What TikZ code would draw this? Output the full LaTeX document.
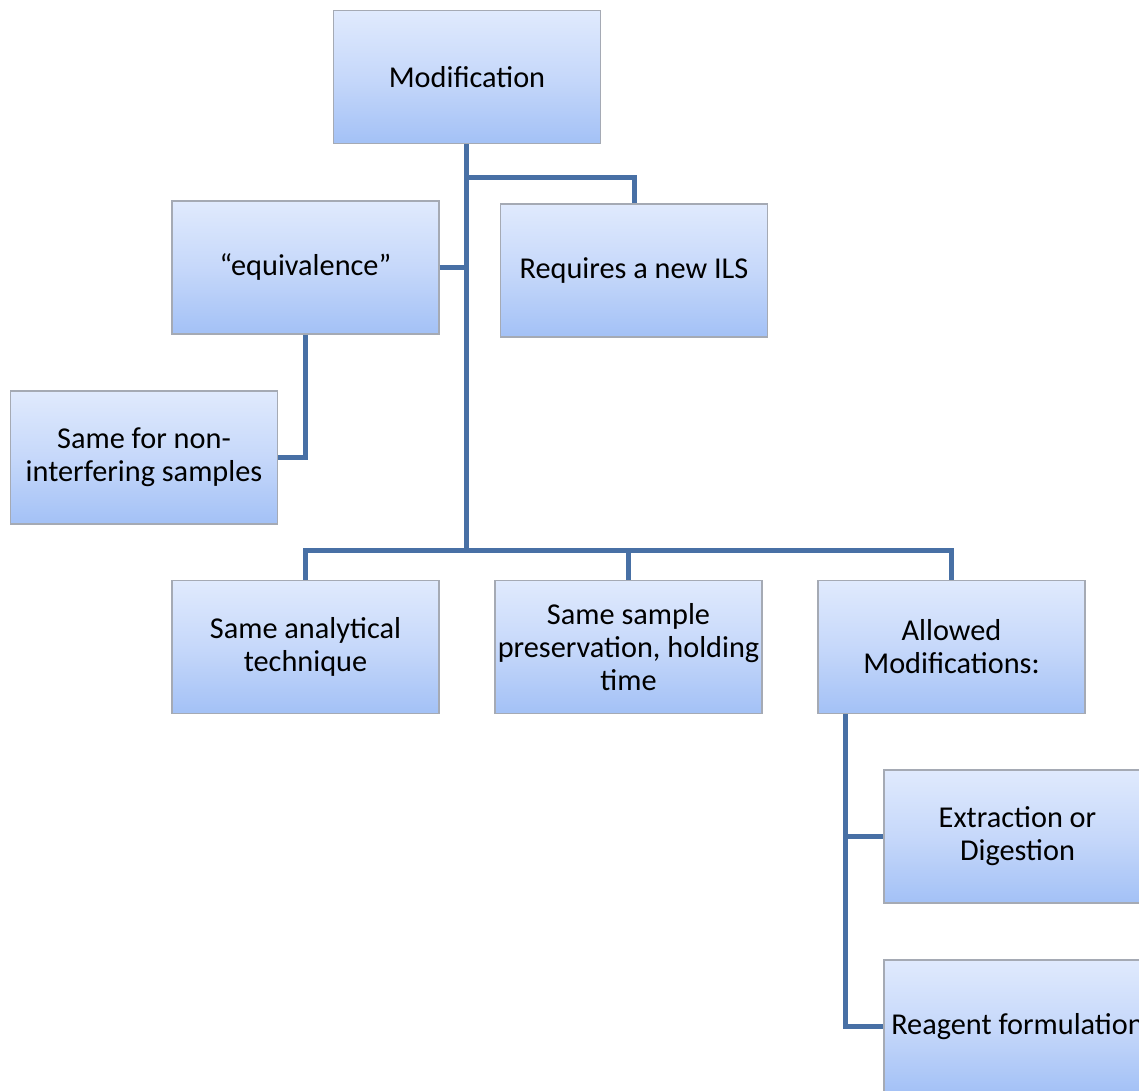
\documentclass[tikz,border=0pt]{standalone}
\usepackage{fontspec}
\setmainfont{Carlito}
\definecolor{boxtop}{RGB}{224,234,253}
\definecolor{boxmid}{RGB}{198,216,250}
\definecolor{boxbot}{RGB}{163,193,246}
\definecolor{boxline}{RGB}{165,170,180}
\definecolor{linkblue}{RGB}{72,112,165}

\begin{document}
\begin{tikzpicture}[x=1pt, y=-1pt,
  box/.style={rectangle, draw=boxline, line width=1.2pt,
              top color=boxtop, bottom color=boxbot, middle color=boxmid,
              minimum width=267pt, minimum height=133pt, inner sep=2pt,
              align=center, font=\fontsize{30.3}{33}\selectfont},
  link/.style={draw=linkblue, line width=5pt}]

\useasboundingbox (0,0) rectangle (1139,1090);

\node[box](1) at (467,77) {Modification};
\node[box](2) at (305.5,267.5) {``equivalence''};
\node[box](3) at (634,270.5) {Requires a new ILS};
\node[box](4) at (144,457.5) {Same for non-\\interfering samples};
\node[box](5) at (305.5,647) {Same analytical\\technique};
\node[box](6) at (628.5,647) {Same sample\\preservation, holding\\time};
\node[box](7) at (951.5,647) {Allowed\\Modifications:};
\node[box](8) at (1017.5,836.5) {Extraction or\\Digestion};
\node[box](9) at (1017.5,1026.5) {Reagent formulation};

\coordinate (j) at (466,550);
\coordinate (k) at (466,177);
\coordinate (a) at (845,714);

\draw[link] (1.south -| j) -- (j);
\draw[link] (k) -| (3.north);
\draw[link] (2.east) -- (2.east -| j);
\draw[link] (2.south) |- (4.east);
\draw[link] (5.north) |- (j) -| (7.north);
\draw[link] (6.north) -- (6.north |- j);
\draw[link] (a) |- (9.west);
\draw[link] (a |- 8.west) -- (8.west);

\end{tikzpicture}
\end{document}
